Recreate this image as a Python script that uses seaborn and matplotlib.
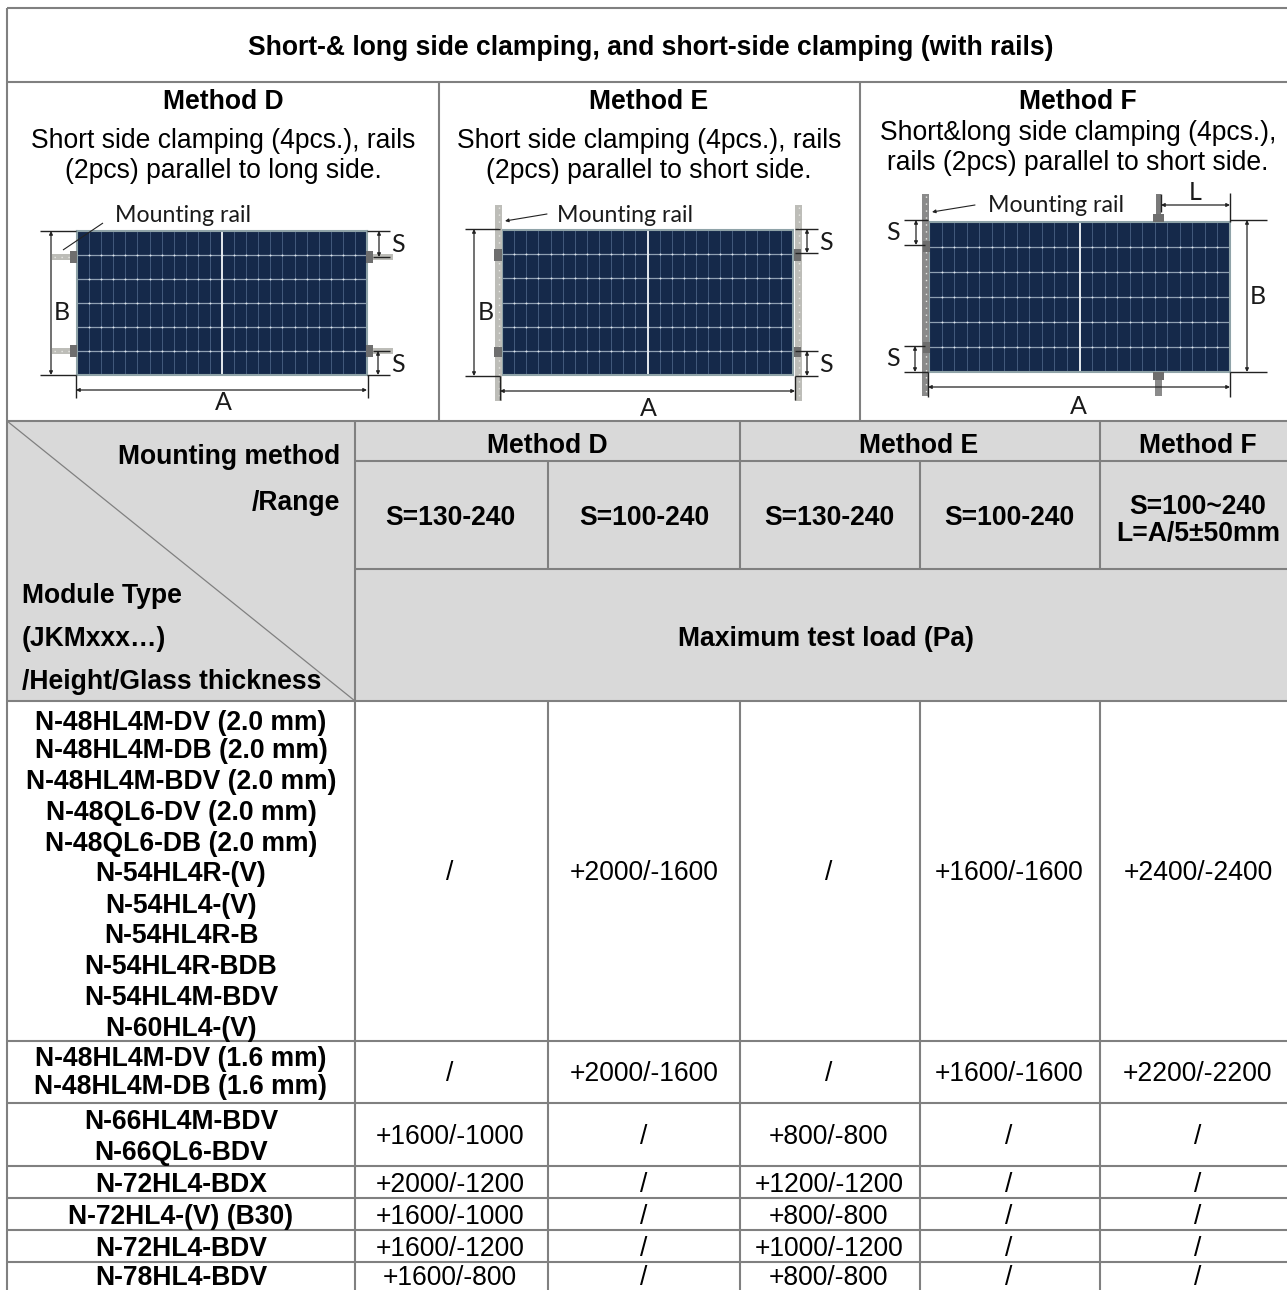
#!/usr/bin/env python3
# recreate the mounting load table with the three clamping drawings
import numpy as np
import matplotlib
matplotlib.use('Agg')
import matplotlib.pyplot as plt
from matplotlib.colors import ListedColormap
import seaborn as sns

# table text
title = 'Short-& long side clamping, and short-side clamping (with rails)'
methods = ['Method D', 'Method E', 'Method F']
method_notes = [['Short side clamping (4pcs.), rails', '(2pcs) parallel to long side.'],
                ['Short side clamping (4pcs.), rails', '(2pcs) parallel to short side.'],
                ['Short&long side clamping (4pcs.),', 'rails (2pcs) parallel to short side.']]
ranges = ['S=130-240', 'S=100-240', 'S=130-240', 'S=100-240', 'S=100~240\nL=A/5±50mm']
load_header = 'Maximum test load (Pa)'

module_groups = [['N-48HL4M-DV (2.0 mm)', 'N-48HL4M-DB (2.0 mm)', 'N-48HL4M-BDV (2.0 mm)',
                  'N-48QL6-DV (2.0 mm)', 'N-48QL6-DB (2.0 mm)', 'N-54HL4R-(V)', 'N-54HL4-(V)',
                  'N-54HL4R-B', 'N-54HL4R-BDB', 'N-54HL4M-BDV', 'N-60HL4-(V)'],
                 ['N-48HL4M-DV (1.6 mm)', 'N-48HL4M-DB (1.6 mm)'],
                 ['N-66HL4M-BDV', 'N-66QL6-BDV'],
                 ['N-72HL4-BDX'],
                 ['N-72HL4-(V) (B30)'],
                 ['N-72HL4-BDV'],
                 ['N-78HL4-BDV']]
loads = [['/', '+2000/-1600', '/', '+1600/-1600', '+2400/-2400'],
         ['/', '+2000/-1600', '/', '+1600/-1600', '+2200/-2200'],
         ['+1600/-1000', '/', '+800/-800', '/', '/'],
         ['+2000/-1200', '/', '+1200/-1200', '/', '/'],
         ['+1600/-1000', '/', '+800/-800', '/', '/'],
         ['+1600/-1200', '/', '+1000/-1200', '/', '/'],
         ['+1600/-800', '/', '+800/-800', '/', '/']]

# layout in reference pixels
W, H = 1287, 1290
col_edges = [355, 548, 740, 920, 1100, 1287]
col_mid = [450, 644, 829, 1009, 1198]
row_edges = [701, 1041, 1103, 1166, 1198, 1230, 1262, 1293]
row_mid = [871, 1072, 1135, 1183, 1215, 1247, 1276]
label_y = [[721, 749, 780, 811, 842, 872, 904, 934, 965, 996, 1027],
           [1057, 1085], [1120, 1151], [1183], [1215], [1247], [1276]]

GRID = '#808080'
FILL = '#d9d9d9'
NAVY = '#15294a'
RAIL = '#bdbdb8'
CLAMP = '#6e6e6e'
LW = 1.5

sns.set_theme(style='white')
plt.rcParams['font.family'] = ['Liberation Sans', 'DejaVu Sans']

fig = plt.figure(figsize=(W / 100, H / 100), dpi=100)
ax = fig.add_axes([0, 0, 1, 1], zorder=3)
ax.set_xlim(0, W)
ax.set_ylim(H, 0)
ax.axis('off')


def txt(x, y, s, size=19.1, weight='normal', ha='center', **kw):
    ax.text(x, y + 2, s, fontsize=size, fontweight=weight, ha=ha, va='center', color='black', **kw)


def hline(y, x0=7, x1=W, lw=LW, c=GRID):
    ax.plot([x0, x1], [y, y], color=c, lw=lw, solid_capstyle='butt', zorder=3)


def vline(x, y0, y1, lw=LW, c=GRID):
    ax.plot([x, x], [y0, y1], color=c, lw=lw, solid_capstyle='butt', zorder=3)


def box(x0, y0, x1, y1, c, z=2):
    ax.fill_between([x0, x1], y0, y1, color=c, lw=0, zorder=z)


def dim(x0, y0, x1, y1):
    # thin double arrow used for the A, B, S, L sizes
    ax.annotate('', xy=(x1, y1), xytext=(x0, y0), zorder=6,
                arrowprops=dict(arrowstyle='<|-|>', color='#222222', lw=0.9,
                                mutation_scale=5, shrinkA=0, shrinkB=0))


def sketch_line(xs, ys, lw=1.0):
    ax.plot(xs, ys, color='#222222', lw=lw, solid_capstyle='butt', zorder=6)


def sketch_text(x, y, s, size=18):
    ax.text(x, y, s, fontsize=size, family='Lato', ha='center', va='center', color='#1a1a1a', zorder=7)


def rail_holes(xs, ys):
    ax.plot(xs, ys, color='#e8e8e4', lw=1.0, ls=(0, (1, 4)), zorder=3)


def solar_panel(x0, y0, x1, y1):
    # the module itself is a 6 x 24 seaborn heatmap of cells
    pax = fig.add_axes([x0 / W, 1 - y1 / H, (x1 - x0) / W, (y1 - y0) / H], zorder=2)
    sns.heatmap(np.zeros((6, 24)), ax=pax, cmap=ListedColormap([NAVY]), cbar=False,
                linewidths=0.6, linecolor='#41587a', xticklabels=False, yticklabels=False)
    pax.hlines(range(1, 6), 0, 24, color='#8e9fb2', lw=0.9)
    cx, cy = np.meshgrid(np.arange(1, 24), np.arange(1, 6))
    pax.plot(cx.ravel(), cy.ravel(), ls='none', marker='o', ms=1.4, mew=0, color='#dfe5ec')
    pax.vlines(12, 0, 6, color='#e4e9ee', lw=1.4)
    for s in pax.spines.values():
        s.set_visible(True)
        s.set_color('#8fa3a8')
        s.set_linewidth(1.5)


# grey header fills
box(7, 421, W, 701, FILL)

# outer and section lines
hline(8)
hline(82)
hline(421)
vline(7, 8, H)
vline(439, 82, 421)
vline(860, 82, 421)
hline(461, 355)
hline(569, 355)
hline(701)
for y in row_edges[1:-1]:
    hline(y)
vline(355, 421, H)
for x in col_edges[1:-1]:
    vline(x, 701, H)
for x in [548, 920]:
    vline(x, 461, 569)
for x in [740, 1100]:
    vline(x, 421, 569)
ax.plot([7, 355], [421, 701], color=GRID, lw=0.9, zorder=3)

# top block text
txt(651, 46, title, weight='bold')
for x, m in zip([223, 649, 1078], methods):
    txt(x, 100, m, weight='bold')
for x, note, y1, y2 in zip([223, 649, 1078], method_notes, [139, 139, 131], [169, 169, 161]):
    txt(x, y1, note[0])
    txt(x, y2, note[1])

# drawing D
for y in [257, 351]:
    box(52, y - 3, 76, y + 3, RAIL)
    box(367, y - 3, 393, y + 3, RAIL)
    rail_holes([54, 72], [y, y])
    box(70, y - 6, 77, y + 6, CLAMP, 4)
    box(366, y - 6, 373, y + 6, CLAMP, 4)
solar_panel(77, 231, 367, 375)
sketch_line([40, 76], [231, 231])
sketch_line([40, 76], [375, 375])
dim(51, 231, 51, 375)
sketch_text(62, 312, 'B')
sketch_line([76, 76], [375, 398])
sketch_line([367.5, 367.5], [375, 398])
dim(76, 390, 367, 390)
sketch_text(223, 402, 'A')
sketch_line([367, 390], [231, 231])
sketch_line([373, 390], [257, 257])
sketch_line([373, 390], [351, 351])
sketch_line([367, 390], [375, 375])
dim(379, 231, 379, 257)
dim(378, 351, 378, 375)
sketch_text(398, 245, 'S')
sketch_text(398, 364, 'S')
sketch_text(183, 215, 'Mounting rail', 16.7)
sketch_line([103, 63], [223, 250], lw=0.8)

# drawing E
box(495, 205, 502, 401, RAIL)
box(795, 205, 802, 401, RAIL)
rail_holes([498.5, 498.5], [207, 399])
rail_holes([798.5, 798.5], [207, 399])
for y0, y1 in [(249, 261), (347, 357)]:
    box(494, y0, 502, y1, CLAMP, 4)
    box(794, y0, 801, y1, CLAMP, 4)
solar_panel(502, 230, 793, 375)
sketch_line([465, 500], [229, 229])
sketch_line([465, 500], [376, 376])
dim(474, 229, 474, 376)
sketch_text(486, 312, 'B')
sketch_line([500, 500], [376, 400])
sketch_line([795, 795], [376, 400])
dim(500, 391, 795, 391)
sketch_text(648, 409, 'A')
sketch_line([795, 818], [229, 229])
sketch_line([795, 818], [253, 253])
sketch_line([795, 818], [351, 351])
sketch_line([795, 818], [376, 376])
dim(807, 229, 807, 253)
dim(807, 351, 807, 376)
sketch_text(826, 242, 'S')
sketch_text(826, 364, 'S')
sketch_text(625, 215, 'Mounting rail', 16.7)
ax.annotate('', xy=(505, 221), xytext=(547, 214), zorder=6,
            arrowprops=dict(arrowstyle='-|>', color='#222222', lw=0.8, mutation_scale=5, shrinkA=0, shrinkB=0))

# drawing F
box(922, 194, 929, 396, '#8a8a8a')
rail_holes([925.5, 925.5], [196, 394])
for y0, y1 in [(241, 252), (342, 353)]:
    box(923, y0, 930, y1, CLAMP, 4)
box(1156, 194, 1161, 214, '#7a7a7a')
box(1153, 214, 1164, 222, CLAMP, 4)
box(1155, 380, 1162, 396, '#8a8a8a')
box(1153, 372, 1164, 380, CLAMP, 4)
solar_panel(929, 222, 1230, 372)
sketch_line([1230, 1230], [193, 222])
sketch_line([1161, 1161], [194, 212])
dim(1161, 205, 1230, 205)
sketch_text(1195, 193, 'L')
sketch_line([1230, 1267], [220, 220])
sketch_line([1230, 1267], [372, 372])
dim(1247, 220, 1247, 372)
sketch_text(1258, 297, 'B')
sketch_line([928, 928], [372, 397])
sketch_line([1230, 1230], [372, 397])
dim(928, 387, 1230, 387)
sketch_text(1078, 406, 'A')
sketch_line([904, 928], [220, 220])
sketch_line([904, 925], [245, 245])
sketch_line([904, 925], [346, 346])
sketch_line([904, 928], [372, 372])
dim(916, 220, 916, 245)
dim(915, 346, 915, 372)
sketch_text(893, 233, 'S')
sketch_text(893, 359, 'S')
sketch_text(1056, 206, 'Mounting rail', 16.7)
ax.annotate('', xy=(932, 212), xytext=(975, 205), zorder=6,
            arrowprops=dict(arrowstyle='-|>', color='#222222', lw=0.8, mutation_scale=5, shrinkA=0, shrinkB=0))

# table header text
txt(340, 455, 'Mounting method', weight='bold', ha='right')
txt(340, 501, '/Range', weight='bold', ha='right')
txt(22, 594, 'Module Type', weight='bold', ha='left')
txt(22, 637, '(JKMxxx…)', weight='bold', ha='left')
txt(22, 680, '/Height/Glass thickness', weight='bold', ha='left')
for x, m in zip([547, 919, 1198], methods):
    txt(x, 444, m, weight='bold')
for x, r in zip(col_mid, ranges):
    lines = r.split('\n')
    if len(lines) == 1:
        txt(x, 516, lines[0], weight='bold')
    else:
        txt(x, 505, lines[0], weight='bold')
        txt(x, 532, lines[1], weight='bold')
txt(826, 637, load_header, weight='bold')

# table body
for names, ys, row, y_val in zip(module_groups, label_y, loads, row_mid):
    for name, y in zip(names, ys):
        txt(181, y, name, weight='bold')
    for x, v in zip(col_mid, row):
        txt(x, y_val, v)

fig.savefig('out.png', dpi=100)
